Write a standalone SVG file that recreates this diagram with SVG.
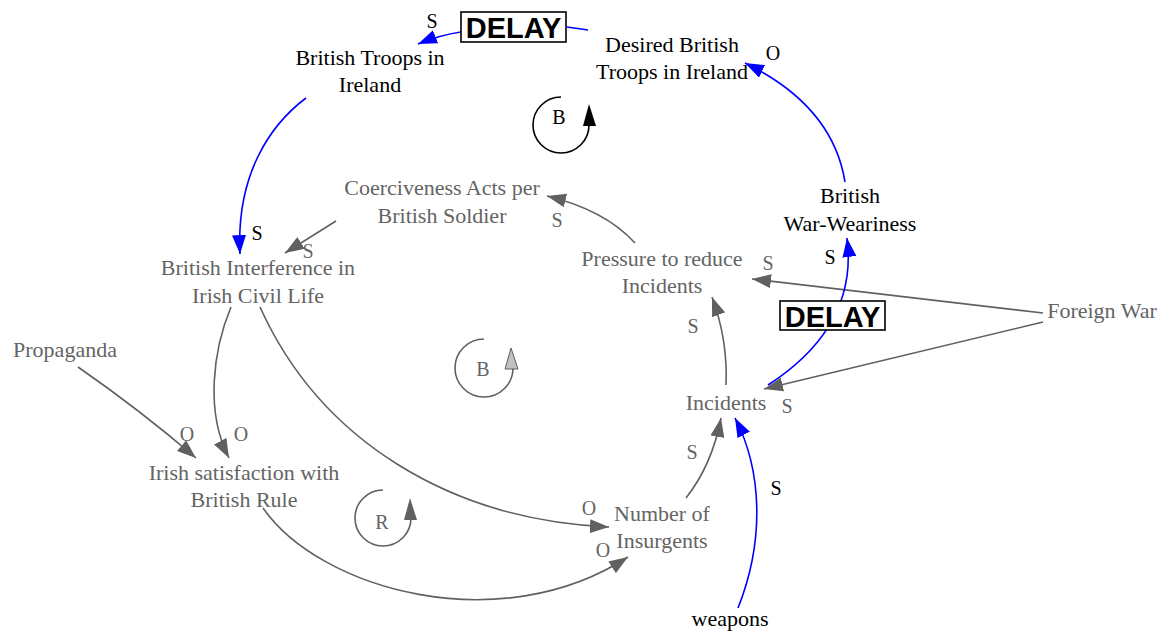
<svg xmlns="http://www.w3.org/2000/svg" width="1162" height="633" viewBox="0 0 1162 633">
<style>
.n{font-family:"Liberation Serif","Times New Roman",serif;font-size:22px;text-anchor:middle}
.g{fill:#646464}
.k{fill:#000}
.lbl{font-family:"Liberation Serif","Times New Roman",serif;font-size:20px;text-anchor:middle}
.cg{fill:none;stroke:#606060;stroke-width:1.6}
.cb{fill:none;stroke:#0000ff;stroke-width:1.6}
.dl{font-family:"Liberation Sans",Arial,sans-serif;font-weight:bold;font-size:29px;text-anchor:middle}
</style>
<defs>
<marker id="ag" markerUnits="userSpaceOnUse" markerWidth="20" markerHeight="14" refX="19" refY="7" orient="auto"><path d="M0,0 L19,7 L0,14 z" fill="#606060"/></marker>
<marker id="ab" markerUnits="userSpaceOnUse" markerWidth="20" markerHeight="14" refX="19" refY="7" orient="auto"><path d="M0,0 L19,7 L0,14 z" fill="#0000ff"/></marker>
</defs>
<rect width="1162" height="633" fill="#fff"/>
<g id="connectors">
<path class="cb" d="M306,98 C270,125 236,175 240,254" marker-end="url(#ab)"/>
<path class="cg" d="M336,221 L285,253" marker-end="url(#ag)"/>
<path class="cg" d="M635,243 Q605,210 547,196" marker-end="url(#ag)"/>
<path class="cg" d="M1043,313 L752,279" marker-end="url(#ag)"/>
<path class="cg" d="M1043,322 L764,389" marker-end="url(#ag)"/>
<path class="cb" d="M768,385 C825,348 855,300 847,238" marker-end="url(#ab)"/>
<path class="cb" d="M738,608 C765,540 762,470 735,418" marker-end="url(#ab)"/>
<path class="cg" d="M686,498 Q712,465 721,418" marker-end="url(#ag)"/>
<path class="cg" d="M726,385 Q728,340 712,297" marker-end="url(#ag)"/>
<path class="cg" d="M231,307 C213,350 205,412 229,458" marker-end="url(#ag)"/>
<path class="cg" d="M78,367 Q140,410 196,458" marker-end="url(#ag)"/>
<path class="cg" d="M260,307 C320,440 450,520 609,527" marker-end="url(#ag)"/>
<path class="cg" d="M263,508 C320,590 500,640 628,557" marker-end="url(#ag)"/>
<path class="cb" d="M845,182 C835,120 790,85 745,63" marker-end="url(#ab)"/>
<path class="cb" d="M461,32 Q440,35 418,44" marker-end="url(#ab)"/>
<path class="cb" d="M567,27 L588,30"/>
<g id="delay1"><rect x="461" y="12" width="105" height="30" fill="#fff" stroke="#000" stroke-width="1.6"/><text class="dl" x="513.5" y="38">DELAY</text></g>
<g id="delay2"><rect x="780" y="301" width="105" height="29" fill="#fff" stroke="#000" stroke-width="1.6"/><text class="dl" x="832.5" y="327">DELAY</text></g>
<text class="lbl k" x="432" y="28">S</text>
<text class="lbl k" x="773" y="60">O</text>
<text class="lbl k" x="257" y="240">S</text>
<text class="lbl g" x="308" y="258">S</text>
<text class="lbl g" x="557" y="227">S</text>
<text class="lbl g" x="768" y="270">S</text>
<text class="lbl k" x="830" y="264">S</text>
<text class="lbl g" x="693" y="333">S</text>
<text class="lbl g" x="787" y="413">S</text>
<text class="lbl g" x="692" y="459">S</text>
<text class="lbl k" x="776" y="495">S</text>
<text class="lbl g" x="187" y="441">O</text>
<text class="lbl g" x="241" y="441">O</text>
<text class="lbl g" x="589" y="515">O</text>
<text class="lbl g" x="603" y="557">O</text>
</g>
<g id="loops">
<g id="loopB1"><path d="M561,97 A28,28 0 1 0 589,125" fill="none" stroke="#000" stroke-width="1.6"/><polygon points="589,104 583,126 596,126" fill="#000"/><text class="lbl k" x="559" y="124">B</text></g>
<g id="loopB2"><path d="M484,339 A29,29 0 1 0 513,368" fill="none" stroke="#606060" stroke-width="1.6"/><polygon points="511,348 505,369 518,369" fill="#c0c0c0" stroke="#606060" stroke-width="1"/><text class="lbl g" x="483" y="376">B</text></g>
<g id="loopR"><path d="M383,490 A28,28 0 1 0 411,518" fill="none" stroke="#606060" stroke-width="1.6"/><polygon points="410,498 404,520 417,520" fill="#606060"/><text class="lbl g" x="382" y="529">R</text></g>
</g>
<g id="n_troops"><text class="n k" x="370" y="65">British Troops in</text><text class="n k" x="370" y="92">Ireland</text></g>
<g id="n_desired"><text class="n k" x="672" y="52">Desired British</text><text class="n k" x="672" y="79">Troops in Ireland</text></g>
<g id="n_coerc"><text class="n g" x="442" y="195">Coerciveness Acts per</text><text class="n g" x="442" y="223">British Soldier</text></g>
<g id="n_interf"><text class="n g" x="258" y="275">British Interference in</text><text class="n g" x="258" y="303">Irish Civil Life</text></g>
<g id="n_pressure"><text class="n g" x="662" y="266">Pressure to reduce</text><text class="n g" x="662" y="293">Incidents</text></g>
<g id="n_weariness"><text class="n k" x="850" y="203">British</text><text class="n k" x="850" y="231">War-Weariness</text></g>
<g id="n_foreign"><text class="n g" x="1102" y="318">Foreign War</text></g>
<g id="n_propaganda"><text class="n g" x="65" y="357">Propaganda</text></g>
<g id="n_incidents"><text class="n g" x="726" y="410">Incidents</text></g>
<g id="n_satisfaction"><text class="n g" x="244" y="480">Irish satisfaction with</text><text class="n g" x="244" y="507">British Rule</text></g>
<g id="n_insurgents"><text class="n g" x="662" y="521">Number of</text><text class="n g" x="662" y="548">Insurgents</text></g>
<g id="n_weapons"><text class="n k" x="730" y="626">weapons</text></g>
</svg>
